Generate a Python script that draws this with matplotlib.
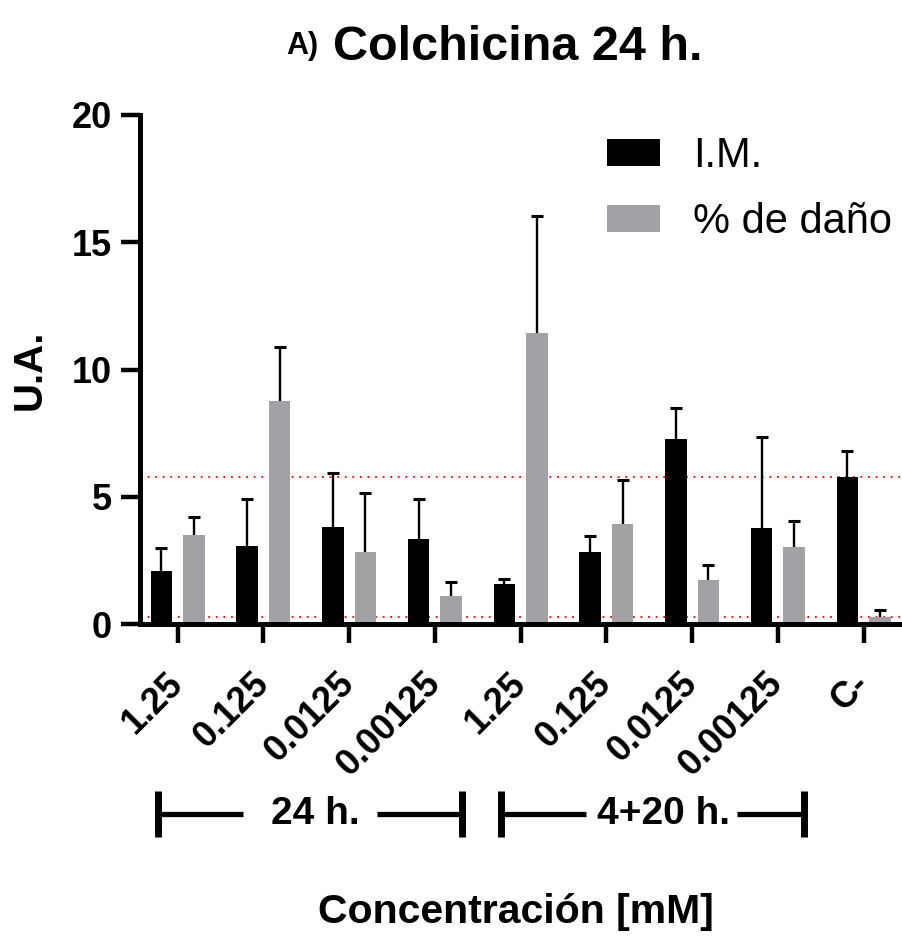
import numpy as np
import matplotlib
matplotlib.use('Agg')
import matplotlib.pyplot as plt
import matplotlib.transforms as mtransforms

plt.rcParams['font.family'] = ['Liberation Sans', 'DejaVu Sans']

# Concentrations (mM) per treatment, last one is the negative control
categories = ['1.25', '0.125', '0.0125', '0.00125',
              '1.25', '0.125', '0.0125', '0.00125', 'C-']

# Mitotic index and % damage: means and upper SD
im_mean = [2.08, 3.08, 3.82, 3.33, 1.58, 2.83, 7.28, 3.78, 5.79]
im_sd = [0.92, 1.83, 2.12, 1.58, 0.20, 0.63, 1.19, 3.58, 1.02]
dano_mean = [3.48, 8.76, 2.82, 1.11, 11.42, 3.94, 1.74, 3.04, 0.26]
dano_sd = [0.73, 2.12, 2.34, 0.53, 4.61, 1.73, 0.57, 1.01, 0.29]

# Treatment schedules and which categories they cover
groups = ['24 h.', '4+20 h.']
group_span = [(0, 3), (4, 7)]

gray = '#a2a2a6'

fig = plt.figure(figsize=(9.03, 9.38), dpi=100)
ax = fig.add_axes([140/903, 1-624/938, 763/903, 509/938])

x = np.arange(len(categories))
w = 0.25
off = 0.19

# control levels as reference lines
ctrl = len(categories) - 1
ax.axhline(im_mean[ctrl], color='red', lw=1.3, ls=(0, (1, 3.2)), zorder=0)
ax.axhline(dano_mean[ctrl], color='red', lw=1.3, ls=(0, (1, 3.2)), zorder=0)

ax.bar(x - off, im_mean, w, color='black', label='I.M.', zorder=2)
ax.bar(x + off, dano_mean, w, color=gray, label='% de daño', zorder=2)

# upper-only error bars with a cap at the top end
for xs, m, sd in [(x - off, im_mean, im_sd), (x + off, dano_mean, dano_sd)]:
    top = np.array(m) + np.array(sd)
    ax.vlines(xs, m, top, color='black', lw=1.7, zorder=3)
    ax.plot(xs, top, ls='none', marker='_', ms=9, mew=2.2, color='black',
            zorder=3)

ax.set_xlim(-0.44, 8.46)
ax.set_ylim(0, 20)
ax.set_yticks([0, 5, 10, 15, 20])
ax.set_xticks(x)
ax.set_xticklabels(categories, rotation=45, ha='right', va='center',
                   rotation_mode='anchor', fontsize=26, fontweight='bold')
for lab in ax.get_yticklabels():
    lab.set_fontsize(26)
    lab.set_fontweight('bold')

for s in ['top', 'right']:
    ax.spines[s].set_visible(False)
for s in ['left', 'bottom']:
    ax.spines[s].set_linewidth(3.6)
    ax.spines[s].set_capstyle('projecting')
ax.tick_params(axis='both', width=3.2, length=14)
ax.tick_params(axis='y', pad=6)
ax.tick_params(axis='x', pad=25)

ax.set_ylabel('U.A.', fontsize=29, fontweight='bold', labelpad=17)

leg = ax.legend(loc='upper left', bbox_to_anchor=(607/903, 1-136/938),
                bbox_transform=fig.transFigure, frameon=False, fontsize=30,
                handlelength=1.28, handleheight=0.63, handletextpad=0.78,
                labelspacing=0.62, borderpad=0, borderaxespad=0)

# brackets under the tick labels for each schedule:
# (left end, line stop, text centre, line restart, right end) relative to span
trans = mtransforms.blended_transform_factory(ax.transData, ax.transAxes)
yb = -0.373
layout = [(-0.23, 0.765, 1.61, -0.68, 0.32),
          (-0.23, 0.76, 1.67, -0.48, 0.31)]
for name, (a, b), (l0, l1, tc, r0, r1) in zip(groups, group_span, layout):
    x0, x1 = a + l0, b + r1
    ax.text(a + tc, yb, name, transform=trans, ha='center', va='center',
            fontsize=28, fontweight='bold')
    for xv in (x0, x1):
        ax.plot([xv, xv], [yb - 0.045, yb + 0.045], color='black', lw=5,
                transform=trans, clip_on=False, solid_capstyle='butt')
    ax.plot([x0, a + l1], [yb, yb], color='black', lw=3.8,
            transform=trans, clip_on=False, solid_capstyle='butt')
    ax.plot([b + r0, x1], [yb, yb], color='black', lw=3.8,
            transform=trans, clip_on=False, solid_capstyle='butt')

fig.text(286/903, 1-54/938, 'A)', fontsize=22, fontweight='bold',
         ha='left', va='baseline')
fig.text(333/903, 1-60/938, 'Colchicina 24 h.', fontsize=35,
         fontweight='bold', ha='left', va='baseline')
fig.text(516/903, 1-912/938, 'Concentración [mM]', fontsize=29.5,
         fontweight='bold', ha='center', va='center')

fig.savefig('out.png', dpi=100)
